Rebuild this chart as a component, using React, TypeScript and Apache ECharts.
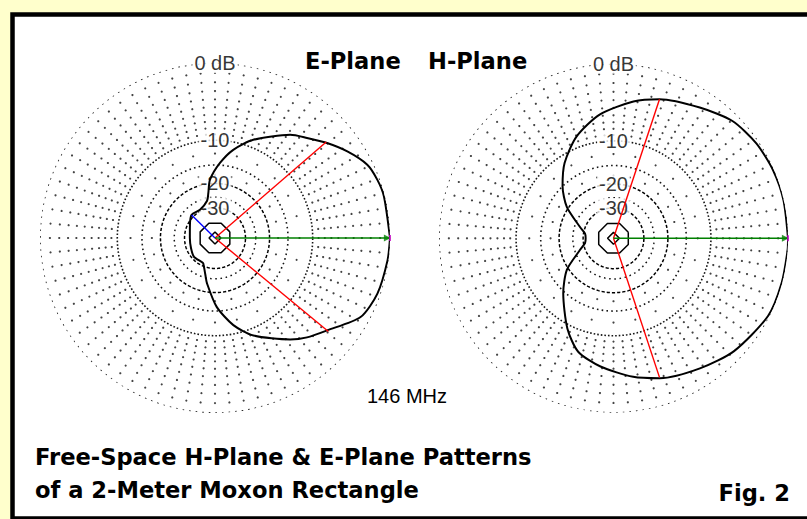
import React, { useEffect, useRef } from "react";
import * as echarts from "echarts";

// Azimuth (deg, CCW from forward) and relative gain (dB) of the E-plane pattern
const ePlaneAngles = [
  0, 13.8, 19.7, 25.7, 33.2, 40.8, 47.4, 53.9, 68.7, 78.3, 86.2, 94.9, 98.5, 102, 118, 135.4,
  152.5, 180, 203, 222, 241, 245, 255, 260, 271.4, 281.9, 291.5, 306.5, 312.8, 320.5, 331.5,
  341.1, 352.7,
];
const ePlaneGains = [
  0, -0.1, -0.25, -0.6, -1.74, -3.1, -4.33, -5.4, -8.7, -11.4, -14.5, -18.8, -23.2, -26.2, -29.2,
  -28.7, -31.3, -33.3, -32.7, -31.3, -31.8, -31.5, -26.4, -22.9, -16.0, -11.6, -8.8, -5.6, -4.4,
  -3.2, -0.94, -0.33, -0.1,
];

// Azimuth and relative gain of the H-plane pattern
const hPlaneAngles = [
  0, 12.6, 23, 33.6, 44.6, 56.6, 71.7, 81.7, 96.4, 110, 123, 134.4, 146, 161.4, 170.6, 180,
  189.4, 199, 214.1, 227.6, 243, 252.7, 264.2, 278.1, 288.3, 303.6, 316.9, 333.3, 345, 356,
];
const hPlaneGains = [
  0, -0.03, -0.1, -0.3, -0.75, -1.85, -3.0, -4.0, -5.8, -8.2, -11.4, -15.0, -19.4, -27.4, -30.9,
  -31.5, -30.9, -27.4, -19.4, -14.6, -9.3, -6.6, -5.2, -3.8, -2.9, -1.9, -0.95, -0.15, -0.05, 0,
];

// Half-power (-3 dB) directions of each pattern
const halfPowerDb = -3;
const eHalfPowerAngles = [40.8, 320.5];
const hHalfPowerAngles = [71.7, 288.3];

// Strongest rear lobe of the E-plane pattern
const eRearLobeAngle = 135.4;
const eRearLobeDb = -28.7;

// Direction and gain of maximum radiation
const maxAngle = 0;
const maxDb = 0;

// Grid ring labels (dB)
const ringLabelLevels = [0, -10, -20, -30];
const ringLabelTexts = ["0 dB", "-10", "-20", "-30"];

const FONT = '"Liberation Sans", Arial, sans-serif';
const FONT_BOLD = '"DejaVu Sans", "Liberation Sans", sans-serif';
const TITLE_FONT = `bold 22.6px ${FONT_BOLD}`;

// ARRL log-periodic radial scale: 0.89 of the radius for every 2 dB
const arrl = (db: number) => Math.pow(0.89, -db / 2);

type RingStyle = {
  db: number;
  dash: number[] | "solid";
  color: string;
  width: number;
  sides?: number;
  start?: number;
};

const DOT = "#151515";

const RING_STYLES: RingStyle[] = [
  { db: 0, dash: [1.6, 5], color: DOT, width: 1.6 },
  { db: -10, dash: [1.6, 2], color: DOT, width: 1.6 },
  { db: -15, dash: [1.6, 3.2], color: DOT, width: 1.6 },
  { db: -20, dash: [3.2, 2], color: "#000", width: 1.5 },
  { db: -25, dash: [1.6, 3.6], color: DOT, width: 1.5 },
  { db: -30, dash: [3.2, 2], color: "#000", width: 1.5 },
  { db: -41, dash: "solid", color: "#000", width: 1.5, sides: 8, start: 22.5 },
  { db: -58, dash: "solid", color: "#000", width: 1.5, sides: 4, start: 0 },
];

function ringSeries(p: number): any[] {
  return RING_STYLES.map((rs) => {
    const sides = rs.sides ?? 180;
    const start = rs.start ?? 0;
    const pts: number[][] = [];
    for (let i = 0; i <= sides; i++) pts.push([arrl(rs.db), start + (360 * i) / sides]);
    return {
      type: "line",
      coordinateSystem: "polar",
      polarIndex: p,
      data: pts,
      showSymbol: false,
      silent: true,
      z: 2,
      lineStyle: { color: rs.color, width: rs.width, type: rs.dash },
    };
  });
}

// Dotted spokes: a dot at every dB step along each radial
function spokeSeries(p: number): any {
  const pts: number[][] = [];
  for (let a = 0; a < 360; a += 5) {
    for (let db = -1; db >= -9; db--) pts.push([arrl(db), a]);
  }
  for (let a = 0; a < 360; a += 15) {
    pts.push([arrl(-12.5), a]);
    pts.push([arrl(-17.5), a]);
  }
  return {
    type: "scatter",
    coordinateSystem: "polar",
    polarIndex: p,
    data: pts,
    symbol: "circle",
    symbolSize: 2.2,
    silent: true,
    z: 2,
    itemStyle: { color: DOT },
  };
}

function labelSeries(p: number): any {
  return {
    type: "scatter",
    coordinateSystem: "polar",
    polarIndex: p,
    symbolSize: 1,
    silent: true,
    z: 3,
    itemStyle: { color: "rgba(0,0,0,0)" },
    data: ringLabelLevels.map((db, i) => ({
      value: [arrl(db), 90],
      label: { formatter: ringLabelTexts[i] },
    })),
    label: {
      show: true,
      position: "inside",
      color: "#000",
      fontFamily: FONT,
      fontSize: 20,
      backgroundColor: "#fff",
      padding: [0, 2],
    },
  };
}

function patternSeries(p: number, angles: number[], gains: number[]): any {
  const pts = angles.map((a, i) => [arrl(gains[i]), a]);
  pts.push([arrl(gains[0]), 360]);
  return {
    type: "line",
    coordinateSystem: "polar",
    polarIndex: p,
    data: pts,
    showSymbol: false,
    smooth: 0.25,
    silent: true,
    z: 5,
    lineStyle: { color: "#000", width: 2 },
  };
}

function radial(p: number, angle: number, db: number, color: string, width: number): any {
  return {
    type: "line",
    coordinateSystem: "polar",
    polarIndex: p,
    data: [
      [0, angle],
      [arrl(db), angle],
    ],
    showSymbol: false,
    silent: true,
    z: 6,
    lineStyle: { color, width },
  };
}

function maxMarker(p: number): any[] {
  return [
    radial(p, maxAngle, maxDb, "#008000", 1.6),
    {
      type: "scatter",
      coordinateSystem: "polar",
      polarIndex: p,
      data: [[arrl(maxDb) * 0.985, maxAngle]],
      symbol: "triangle",
      symbolRotate: -90,
      symbolSize: 7,
      silent: true,
      z: 7,
      itemStyle: { color: "#008000" },
    },
    {
      type: "scatter",
      coordinateSystem: "polar",
      polarIndex: p,
      data: [[arrl(maxDb), maxAngle]],
      symbol: "rect",
      symbolSize: [2, 6],
      silent: true,
      z: 8,
      itemStyle: { color: "#c000c0" },
    },
  ];
}

function text(x: number, y: number, str: string, font: string, align = "left"): any {
  return {
    type: "text",
    x,
    y,
    z: 20,
    style: { text: str, font, fill: "#000", align, verticalAlign: "middle" },
  };
}

export default function App() {
  const ref = useRef<HTMLDivElement>(null);

  useEffect(() => {
    if (!ref.current) return;
    const chart = echarts.init(ref.current, null, { renderer: "svg" });

    const series: any[] = [];
    [0, 1].forEach((p) => {
      series.push(...ringSeries(p), spokeSeries(p), labelSeries(p));
    });
    series.push(patternSeries(0, ePlaneAngles, ePlaneGains));
    series.push(patternSeries(1, hPlaneAngles, hPlaneGains));
    eHalfPowerAngles.forEach((a) => series.push(radial(0, a, halfPowerDb, "#ff0000", 1.4)));
    hHalfPowerAngles.forEach((a) => series.push(radial(1, a, halfPowerDb, "#ff0000", 1.4)));
    series.push(radial(0, eRearLobeAngle, eRearLobeDb, "#0000ff", 1.4));
    series.push(...maxMarker(0), ...maxMarker(1));

    chart.setOption({
      animation: false,
      backgroundColor: "#FFFFCC",
      polar: [
        { center: [215, 238], radius: 175 },
        { center: [613.5, 238.3], radius: 174.5 },
      ],
      angleAxis: [0, 1].map((p) => ({
        polarIndex: p,
        type: "value",
        min: 0,
        max: 360,
        startAngle: 0,
        clockwise: false,
        show: false,
      })),
      radiusAxis: [0, 1].map((p) => ({
        polarIndex: p,
        type: "value",
        min: 0,
        max: 1,
        show: false,
      })),
      graphic: [
        {
          type: "rect",
          z: 0,
          shape: { x: 12.5, y: 14.5, width: 800, height: 504 },
          style: { fill: "#fff", stroke: "#000", lineWidth: 4.5 },
        },
        text(305, 61, "E-Plane", TITLE_FONT),
        text(428, 61, "H-Plane", TITLE_FONT),
        text(367, 396, "146 MHz", `20px ${FONT}`),
        text(35, 457, "Free-Space H-Plane & E-Plane Patterns", TITLE_FONT),
        text(35, 490, "of a 2-Meter Moxon Rectangle", TITLE_FONT),
        text(790, 493, "Fig. 2", TITLE_FONT, "right"),
      ],
      series,
    });

    return () => chart.dispose();
  }, []);

  return (
    <div
      ref={ref}
      style={{ position: "fixed", left: 0, top: 0, width: 807, height: 519 }}
    />
  );
}
